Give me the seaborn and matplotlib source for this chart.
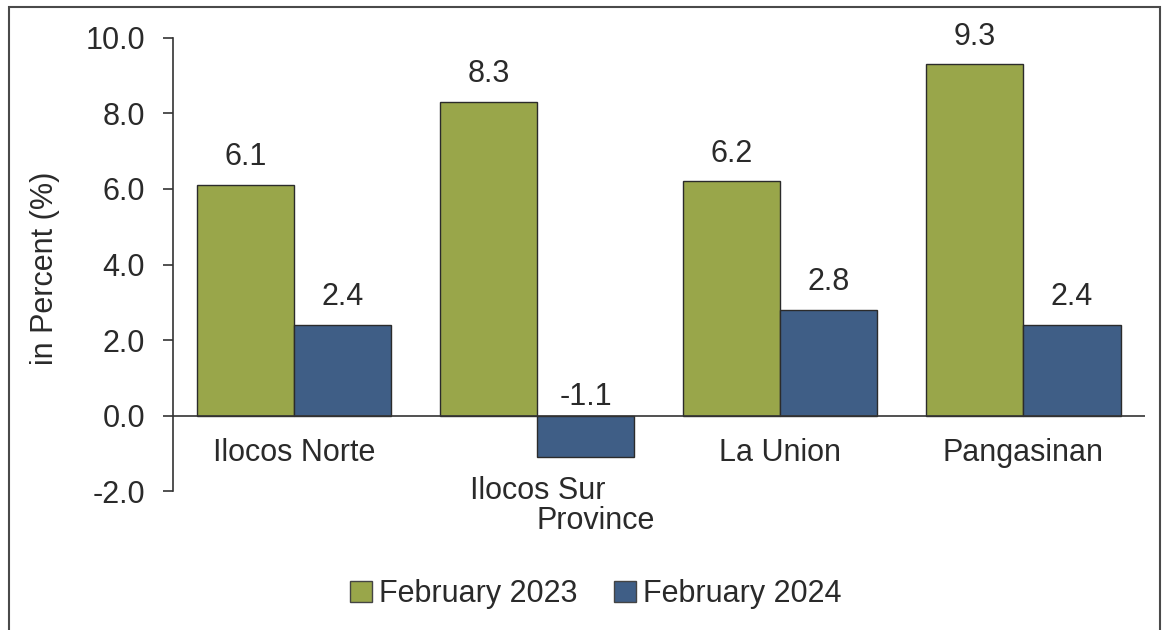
import seaborn as sns
import pandas as pd
import matplotlib.pyplot as plt
from matplotlib.patches import Rectangle

# Data
provinces = ['Ilocos Norte', 'Ilocos Sur', 'La Union', 'Pangasinan']
feb_2023 = [6.1, 8.3, 6.2, 9.3]
feb_2024 = [2.4, -1.1, 2.8, 2.4]
series = ['February 2023', 'February 2024']
colors = ['#99A64A', '#3F5E86']

df = pd.DataFrame({
    'Province': provinces * 2,
    'value': feb_2023 + feb_2024,
    'period': [series[0]] * 4 + [series[1]] * 4,
})

sns.set_theme(style='white')
plt.rcParams['font.family'] = ['Liberation Sans', 'DejaVu Sans']
txt = '#2a2a2a'
fs = 22

fig = plt.figure(figsize=(11.67, 6.3), dpi=100)
ax = fig.add_axes([0.148, 0.2206, 0.833, 0.7191])

sns.barplot(data=df, x='Province', y='value', hue='period', palette=colors,
            saturation=1, width=0.8, edgecolor='#2b2b2b', linewidth=1.0,
            ax=ax, legend=False)

ax.set_ylim(-2, 10)
ax.set_xlim(-0.5, 3.5)
yt = [-2, 0, 2, 4, 6, 8, 10]
ax.set_yticks(yt)
ax.set_yticklabels([f'{v:.1f}' for v in yt], fontsize=fs, color=txt)
ax.tick_params(axis='y', direction='out', length=7, width=1.2, color='#333333', pad=13, left=True)
ax.set_xticks([])
ax.set_xlabel('')
ax.set_ylabel('')
for s in ['top', 'right', 'bottom']:
    ax.spines[s].set_visible(False)
ax.spines['left'].set_color('#333333')
ax.spines['left'].set_linewidth(1.2)
ax.axhline(0, color='#333333', lw=1.2, zorder=5)

fig.text(45 / 1167, 1 - 268 / 630, 'in Percent (%)', rotation=90, ha='center', va='center',
         fontsize=fs, color=txt)

# value labels
for cont in ax.containers:
    for bar in cont:
        h = bar.get_height()
        x = bar.get_x() + bar.get_width() / 2
        off = 20 if h >= 0 else 13
        ax.annotate(f'{h:.1f}', (x, max(h, 0)), xytext=(0, off), textcoords='offset points',
                    ha='center', va='center', fontsize=fs, color=txt)

# category labels (low position, Ilocos Sur pushed below its negative bar)
label_y = [-0.98, -2.0, -0.98, -0.98]
for i, name in enumerate(provinces):
    ax.text(i, label_y[i], name, ha='center', va='center', fontsize=fs, color=txt)

fig.text(596 / 1167, 1 - 521 / 630, 'Province', ha='center', va='center', fontsize=fs, color=txt)

# legend
handles = [Rectangle((0, 0), 1, 1, fc=c, ec='#444444', lw=1) for c in colors]
fig.legend(handles, series, loc='center', bbox_to_anchor=(596 / 1167, 1 - 594 / 630),
           ncol=2, frameon=False, fontsize=fs, handlelength=0.7, handleheight=0.7,
           handletextpad=0.25, columnspacing=1.2, labelcolor=txt)

# outer frame
fig.add_artist(Rectangle((9 / 1167, -0.02), (1160 - 9) / 1167, 1 - 7 / 630 + 0.02,
                         transform=fig.transFigure, fill=False, ec='#4a4a4a', lw=1.5))

fig.savefig('out.png', dpi=100)
